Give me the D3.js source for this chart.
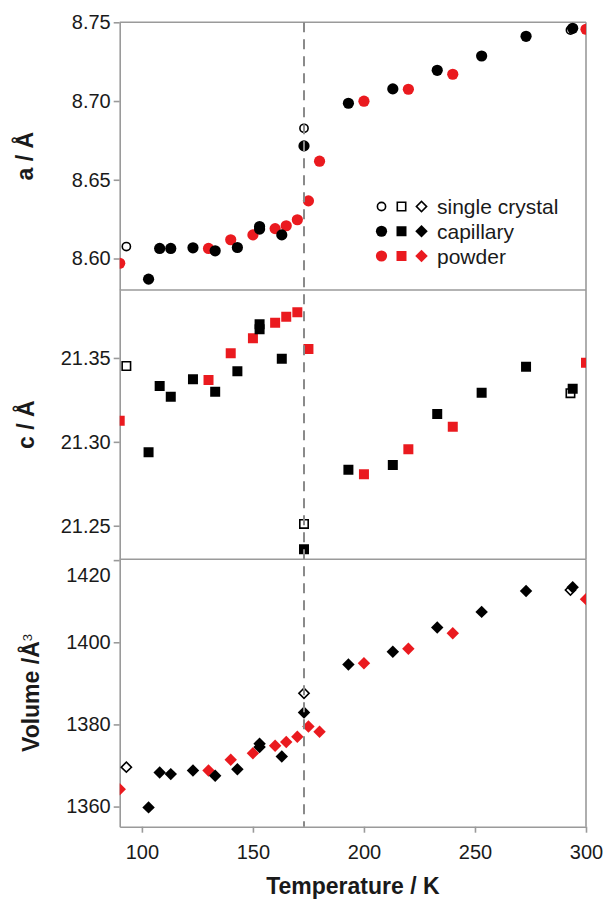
<!DOCTYPE html>
<html>
<head>
<meta charset="utf-8">
<script src="https://cdn.jsdelivr.net/npm/d3@7"></script>
<style>
body { margin: 0; background: #fff; }
text { font-family: "Liberation Sans", Arial, sans-serif; fill: #1a1a1a; }
</style>
</head>
<body>
<svg id="drawing_region"></svg>
<script>
// temperatures (K) of each data set
const temp_single = [93, 173, 293];
const temp_capillary = [103, 108, 113, 123, 133, 143, 153, 153, 163, 173, 193, 213, 233, 253, 273, 294];
const temp_powder = [90, 130, 140, 150, 160, 165, 170, 175, 180, 200, 220, 240, 300];

// lattice parameter a (Å)
const a_single = [8.6076, 8.6827, 8.7451];
const a_capillary = [8.5869, 8.6064, 8.6064, 8.6068, 8.6049, 8.6070, 8.6203, 8.6187, 8.6150, 8.6715,
                     8.6986, 8.7077, 8.7195, 8.7286, 8.7411, 8.7462];
const a_powder = [8.5970, 8.6064, 8.6119, 8.6150, 8.6190, 8.6208, 8.6246, 8.6366, 8.6618,
                  8.6999, 8.7075, 8.7170, 8.7456];

// lattice parameter c (Å), no c value shown for the 180 K powder point
const c_single = [21.3452, 21.2511, 21.3290];
const c_capillary = [21.2938, 21.3333, 21.3269, 21.3373, 21.3299, 21.3421, 21.3701, 21.3671, 21.3496, 21.2360,
                     21.2833, 21.2862, 21.3166, 21.3293, 21.3448, 21.3317];
const c_powder = [21.3126, 21.3369, 21.3528, 21.3617, 21.3710, 21.3746, 21.3772, 21.3554, null,
                  21.2807, 21.2956, 21.3090, 21.3472];

// cell volume (Å^3)
const v_single = [1369.6, 1387.6, 1412.7];
const v_capillary = [1359.8, 1368.3, 1367.9, 1368.8, 1367.5, 1369.1, 1375.3, 1374.5, 1372.2, 1382.9,
                     1394.6, 1397.7, 1403.6, 1407.4, 1412.5, 1413.4];
const v_powder = [1364.2, 1368.8, 1371.4, 1373.0, 1374.8, 1375.7, 1377.0, 1379.5, 1378.2,
                  1394.9, 1398.4, 1402.2, 1410.5];

const transition_temp = 173;
const x_ticks = [100, 150, 200, 250, 300];
const a_ticks = [8.60, 8.65, 8.70, 8.75];
const c_ticks = [21.25, 21.30, 21.35];
const v_ticks = [1360, 1380, 1400, 1420];
const legend_labels = ['single crystal', 'capillary', 'powder'];

const width = 604, height = 901;
const left = 119.7, right = 586;
const axis_color = '#9a9a9a';
const red = '#ea1a1f';

const svg = d3.select('#drawing_region')
    .attr('width', width)
    .attr('height', height);

const x = d3.scaleLinear().domain([90, 300]).range([left, right]);

const panels = [
    { id: 'a', top: 22.3, bottom: 290, domain: [8.580, 8.750], ticks: a_ticks, format: d3.format('.2f'),
      shape: 'circle', single: a_single, capillary: a_capillary, powder: a_powder, title_x: 33 },
    { id: 'c', top: 290, bottom: 559.3, domain: [21.2300, 21.3905], ticks: c_ticks, format: d3.format('.2f'),
      shape: 'square', single: c_single, capillary: c_capillary, powder: c_powder, title_x: 34 },
    { id: 'v', top: 559.3, bottom: 826.7, domain: [1355.1, 1420.2], ticks: v_ticks, format: d3.format('d'),
      shape: 'diamond', single: v_single, capillary: v_capillary, powder: v_powder, title_x: 39 }
];

function markerPath(shape, open) {
    if (shape === 'circle') {
        const r = open ? 4.1 : 5.6;
        return d3.symbol(d3.symbolCircle, Math.PI * r * r)();
    }
    // diamonds are squares turned by 45 degrees
    const s = shape === 'square' ? (open ? 8.4 : 10) : (open ? 7.2 : 8.8);
    return d3.symbol(d3.symbolSquare, s * s)();
}

function markerTransform(shape, px, py) {
    return `translate(${px},${py})` + (shape === 'diamond' ? ' rotate(45)' : '');
}

panels.forEach(p => {
    const y = d3.scaleLinear().domain(p.domain).range([p.bottom, p.top]);

    svg.append('clipPath')
        .attr('id', 'clip_' + p.id)
        .append('rect')
        .attr('x', left).attr('y', p.top)
        .attr('width', right - left).attr('height', p.bottom - p.top);

    const axis = svg.append('g')
        .attr('transform', `translate(${left},0)`)
        .call(d3.axisLeft(y).tickValues(p.ticks).tickFormat(p.format).tickSize(6).tickSizeOuter(0));
    axis.select('.domain').attr('stroke', axis_color).attr('stroke-width', 1.6);
    axis.selectAll('.tick line').attr('stroke', axis_color).attr('stroke-width', 1.6);
    axis.selectAll('.tick text')
        .style('font-size', '20px')
        .style('font-family', '"Liberation Sans", Arial, sans-serif')
        .attr('fill', '#1a1a1a');
    // the top label of the volume axis sits below its tick
    if (p.id === 'v') {
        axis.selectAll('.tick text').filter(d => d === 1420).attr('y', 15);
    }

    // frame: top and right
    svg.append('line')
        .attr('x1', left).attr('x2', right).attr('y1', p.top).attr('y2', p.top)
        .attr('stroke', axis_color).attr('stroke-width', 1.6);
    svg.append('line')
        .attr('x1', right).attr('x2', right).attr('y1', p.top).attr('y2', p.bottom)
        .attr('stroke', axis_color).attr('stroke-width', 1.6);

    const marks = svg.append('g').attr('clip-path', `url(#clip_${p.id})`);

    [['single', temp_single, '#000', true],
     ['powder', temp_powder, red, false],
     ['capillary', temp_capillary, '#000', false]].forEach(([key, temps, color, open]) => {
        const vals = p[key];
        const pts = temps.map((t, i) => ({ t: t, v: vals[i] })).filter(d => d.v !== null);
        marks.selectAll(null)
            .data(pts)
            .enter()
            .append('path')
            .attr('d', markerPath(p.shape, open))
            .attr('transform', d => markerTransform(p.shape, x(d.t), y(d.v)))
            .attr('fill', open ? '#fff' : color)
            .attr('stroke', open ? color : 'none')
            .attr('stroke-width', 1.6);
    });
});

// bottom temperature axis
const x_axis = svg.append('g')
    .attr('transform', `translate(0,${panels[2].bottom})`)
    .call(d3.axisBottom(x).tickValues(x_ticks).tickSize(6).tickSizeOuter(0));
x_axis.select('.domain').attr('stroke', axis_color).attr('stroke-width', 1.6);
x_axis.selectAll('.tick line').attr('stroke', axis_color).attr('stroke-width', 1.6);
x_axis.selectAll('.tick text')
    .style('font-size', '20px')
    .style('font-family', '"Liberation Sans", Arial, sans-serif')
    .attr('fill', '#1a1a1a')
    .attr('y', 18);

// phase transition marker
svg.append('line')
    .attr('x1', x(transition_temp)).attr('x2', x(transition_temp))
    .attr('y1', panels[0].top).attr('y2', panels[2].bottom)
    .attr('stroke', '#8a8a8a')
    .attr('stroke-width', 2)
    .attr('stroke-dasharray', '10,7');

// axis titles
svg.append('text')
    .attr('transform', `translate(${panels[0].title_x},${(panels[0].top + panels[0].bottom) / 2}) rotate(-90)`)
    .attr('text-anchor', 'middle')
    .style('font-size', '23px').style('font-weight', 'bold')
    .text('a / Å');
svg.append('text')
    .attr('transform', `translate(${panels[1].title_x},${(panels[1].top + panels[1].bottom) / 2}) rotate(-90)`)
    .attr('text-anchor', 'middle')
    .style('font-size', '23px').style('font-weight', 'bold')
    .text('c / Å');
const vt = svg.append('text')
    .attr('transform', `translate(${panels[2].title_x},${(panels[2].top + panels[2].bottom) / 2}) rotate(-90)`)
    .attr('text-anchor', 'middle')
    .style('font-size', '23px').style('font-weight', 'bold');
vt.append('tspan').text('Volume /Å');
vt.append('tspan').attr('dy', '-0.55em').style('font-size', '13px').style('font-weight', 'normal').text('3');

svg.append('text')
    .attr('x', (left + right) / 2)
    .attr('y', 894)
    .attr('text-anchor', 'middle')
    .style('font-size', '23px').style('font-weight', 'bold')
    .text('Temperature / K');

// legend
const legend = svg.append('g');
const legend_colors = ['#000', '#000', red];
const legend_shapes = ['circle', 'square', 'diamond'];
legend_labels.forEach((label, i) => {
    const ly = 206.5 + i * 24.75;
    legend_shapes.forEach((shape, j) => {
        const open = i === 0;
        legend.append('path')
            .attr('d', markerPath(shape, open))
            .attr('transform', markerTransform(shape, 381.5 + j * 20, ly))
            .attr('fill', open ? '#fff' : legend_colors[i])
            .attr('stroke', open ? legend_colors[i] : 'none')
            .attr('stroke-width', 1.6);
    });
    legend.append('text')
        .attr('x', 437)
        .attr('y', ly + 7.5)
        .style('font-size', '21px')
        .text(label);
});
</script>
</body>
</html>
